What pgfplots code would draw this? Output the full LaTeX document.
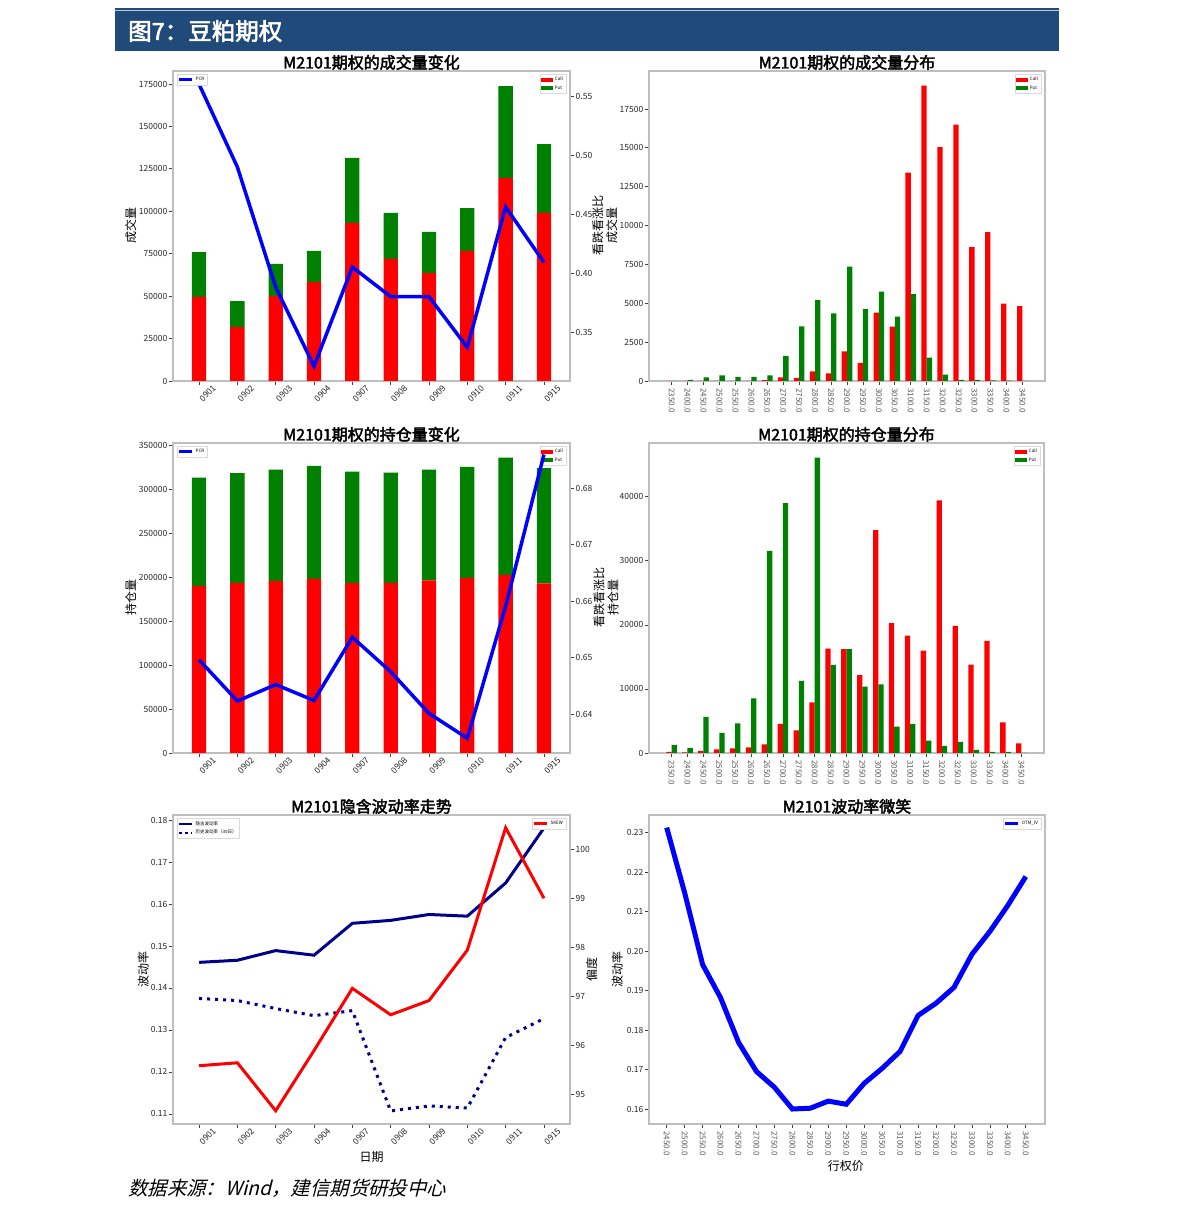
\documentclass[border=0pt]{standalone}
\usepackage{fontspec}
\setmainfont{Noto Sans CJK SC}
\newfontfamily\boldcjk{Noto Sans CJK SC}[FakeBold=2.5]
\newfontfamily\slantcjk{Noto Sans CJK SC}[FakeSlant=0.25]
\usepackage{pgfplots}
\usepackage{pgfplotstable}
\pgfplotsset{compat=1.18}
\definecolor{hdr}{RGB}{32,74,122}
\definecolor{mplgreen}{RGB}{0,128,0}
\definecolor{navyb}{RGB}{0,0,139}
\definecolor{framec}{RGB}{190,190,190}

\pgfplotsset{
  base/.style={
    scale only axis,
    axis line style={draw=framec, line width=1.3pt},
    tick style={draw=black!75, line width=0.7pt},
    major tick length=4pt,
    tick align=outside,
    tick label style={font=\fontsize{8.5}{10}\selectfont, text=black!85},
    yticklabel style={inner sep=1.5pt},
    /pgf/number format/fixed,
    /pgf/number format/assume math mode=true,
    /pgf/number format/1000 sep={},
    scaled ticks=false,
    title style={font=\boldcjk\fontsize{16}{18}\selectfont, at={(0.5,1)}, anchor=base, yshift=-3.5pt, inner sep=0pt},
    label style={font=\fontsize{12}{14}\selectfont, align=center},
    legend style={font=\fontsize{4.5}{5}\selectfont, draw=black!15, inner sep=1pt, row sep=-0.5pt, legend cell align=left, fill=white},
  },
  catx/.style={xmin=-0.68, xmax=9.68, xtick={0,...,9},
    xticklabels={0901,0902,0903,0904,0907,0908,0909,0910,0911,0915},
    xticklabel style={rotate=45, anchor=center, yshift=-12pt}},
  strikex/.style={xticklabel style={rotate=-90, anchor=west, text=black!65, font=\fontsize{8}{9}\selectfont}},
  barleg/.style={legend image code/.code={\fill[#1] (0pt,-2pt) rectangle (12pt,2pt);}},
  lineleg/.style={legend image code/.code={\draw[#1] (0pt,0pt) -- (13pt,0pt);}},
}

\pgfplotstableread{
x call put pcr
0 49500 26500 0.560
1 31800 15300 0.4898
2 50100 18900 0.388
3 58300 18300 0.321
4 93100 38300 0.405
5 71900 27100 0.380
6 63600 24200 0.380
7 76600 25300 0.337
8 119600 54200 0.456
9 99000 40600 0.409
}\volchg

\pgfplotstableread{
x call put pcr
0 190200 123000 0.6496
1 193600 124900 0.6423
2 195900 126400 0.6452
3 198200 128300 0.6424
4 193200 126800 0.6536
5 193600 125300 0.6475
6 196300 126000 0.6401
7 199300 126100 0.6357
8 202700 133300 0.6591
9 192900 131300 0.6860
}\oichg

\pgfplotstableread{
k call put
2350 0 0
2400 0 64
2450 0 236
2500 0 364
2550 0 257
2600 0 257
2650 50 364
2700 236 1608
2750 193 3516
2800 622 5210
2850 493 4352
2900 1908 7354
2950 1158 4631
3000 4395 5746
3050 3495 4138
3100 13400 5596
3150 18996 1501
3200 15051 407
3250 16487 64
3300 8619 64
3350 9584 43
3400 4974 21
3450 4824 0
}\voldist

\pgfplotstableread{
k call put
2350 156 1250
2400 104 781
2450 312 5625
2500 573 3125
2550 729 4635
2600 885 8541
2650 1354 31560
2700 4531 39010
2750 3541 11250
2800 7916 46090
2850 16300 13750
2900 16200 16200
2950 12135 10364
3000 34790 10729
3050 20260 4114
3100 18333 4531
3150 15990 1927
3200 39425 1094
3250 19843 1719
3300 13800 469
3350 17500 156
3400 4791 156
3450 1510 0
}\oidist

\pgfplotstableread{
x iv hv skew
0 0.1461 0.1375 95.58
1 0.1466 0.1370 95.64
2 0.1489 0.1351 94.66
3 0.1478 0.1334 95.89
4 0.1554 0.1346 97.16
5 0.1561 0.1107 96.62
6 0.1575 0.1119 96.91
7 0.1571 0.1114 97.94
8 0.1650 0.1282 100.44
9 0.1781 0.1327 99.00
}\ivtrend

\pgfplotstableread{
k iv
2450 0.2313
2500 0.2148
2550 0.1966
2600 0.1882
2650 0.1769
2700 0.1695
2750 0.1655
2800 0.1600
2850 0.1602
2900 0.1620
2950 0.1612
3000 0.1665
3050 0.1703
3100 0.1746
3150 0.1837
3200 0.1868
3250 0.1908
3300 0.1992
3350 0.2050
3400 0.2116
3450 0.2189
}\smile

\begin{document}
\begin{tikzpicture}
\useasboundingbox (0pt,0pt) rectangle (1191pt,1219pt);
% header
\fill[hdr] (115pt,1168pt) rectangle (1059pt,1211pt);
\draw[white!70!hdr, line width=0.8pt] (115pt,1208.5pt) -- (1059pt,1208.5pt);
\node[anchor=west, text=white, font=\boldcjk\fontsize{23.5}{25}\selectfont, inner sep=0pt] at (128pt,1188pt) {图7：豆粕期权};
% footer
\node[anchor=west, font=\slantcjk\fontsize{19.4}{21}\selectfont, inner sep=0pt] at (128pt,31pt) {数据来源：Wind，建信期货研投中心};

% ===== Panel 1 =====
\begin{axis}[base, catx, at={(173pt,838pt)}, anchor=south west, width=397pt, height=310pt,
  ybar stacked, bar width=14.3pt,
  xtick pos=left, ytick pos=left,
  ymin=0, ymax=182650, ytick={0,25000,50000,75000,100000,125000,150000,175000},
  title={M2101期权的成交量变化},
  ylabel={成交量}, ylabel style={at={(axis description cs:-0.106,0.5)}, anchor=center},
  legend style={at={(0.99,0.99)}, anchor=north east}]
\addplot[fill=red, draw=none, barleg=red] table[x=x,y=call]{\volchg};
\addlegendentry{Call}
\addplot[fill=mplgreen, draw=none, barleg=mplgreen] table[x=x,y=put]{\volchg};
\addlegendentry{Put}
\end{axis}
\begin{axis}[base, at={(173pt,838pt)}, anchor=south west, width=397pt, height=310pt,
  xmin=-0.68, xmax=9.68, axis x line=none, axis y line*=right,
  ymin=0.3085, ymax=0.5712, ytick={0.35,0.40,0.45,0.50,0.55},
  yticklabel style={/pgf/number format/.cd, fixed, fixed zerofill, precision=2},
  ylabel={看跌看涨比\\成交量}, ylabel style={at={(axis description cs:1.088,0.5)}, anchor=center},
  legend style={at={(0.01,0.99)}, anchor=north west}]
\addplot[blue, line width=3.5pt, lineleg={blue, line width=2.5pt}] table[x=x,y=pcr]{\volchg};
\addlegendentry{PCR}
\end{axis}

% ===== Panel 2 =====
\begin{axis}[base, strikex, at={(649pt,838pt)}, anchor=south west, width=396pt, height=310pt,
  xmin=2279, xmax=3521, xtick={2350,2400,...,3450},
  xticklabels={2350.0,2400.0,2450.0,2500.0,2550.0,2600.0,2650.0,2700.0,2750.0,2800.0,2850.0,2900.0,2950.0,3000.0,3050.0,3100.0,3150.0,3200.0,3250.0,3300.0,3350.0,3400.0,3450.0},
  xtick pos=left, ytick pos=left,
  ymin=0, ymax=19944, ytick={0,2500,5000,7500,10000,12500,15000,17500},
  title={M2101期权的成交量分布},
  legend style={at={(0.99,0.99)}, anchor=north east}]
\addplot[ybar, bar width=5.3pt, bar shift=-2.65pt, fill=red, draw=none, barleg=red] table[x=k,y=call]{\voldist};
\addlegendentry{Call}
\addplot[ybar, bar width=5.3pt, bar shift=2.65pt, fill=mplgreen, draw=none, barleg=mplgreen] table[x=k,y=put]{\voldist};
\addlegendentry{Put}
\end{axis}

% ===== Panel 3 =====
\begin{axis}[base, catx, at={(173pt,466pt)}, anchor=south west, width=397pt, height=310pt,
  ybar stacked, bar width=14.3pt,
  xtick pos=left, ytick pos=left,
  ymin=0, ymax=352660, ytick={0,50000,100000,150000,200000,250000,300000,350000},
  title={M2101期权的持仓量变化},
  ylabel={持仓量}, ylabel style={at={(axis description cs:-0.106,0.5)}, anchor=center},
  legend style={at={(0.99,0.99)}, anchor=north east}]
\addplot[fill=red, draw=none, barleg=red] table[x=x,y=call]{\oichg};
\addlegendentry{Call}
\addplot[fill=mplgreen, draw=none, barleg=mplgreen] table[x=x,y=put]{\oichg};
\addlegendentry{Put}
\end{axis}
\begin{axis}[base, at={(173pt,466pt)}, anchor=south west, width=397pt, height=310pt,
  xmin=-0.68, xmax=9.68, axis x line=none, axis y line*=right,
  ymin=0.63308, ymax=0.68805, ytick={0.64,0.65,0.66,0.67,0.68},
  yticklabel style={/pgf/number format/.cd, fixed, fixed zerofill, precision=2},
  ylabel={看跌看涨比\\持仓量}, ylabel style={at={(axis description cs:1.091,0.5)}, anchor=center},
  legend style={at={(0.01,0.99)}, anchor=north west}]
\addplot[blue, line width=3.5pt, lineleg={blue, line width=2.5pt}] table[x=x,y=pcr]{\oichg};
\addlegendentry{PCR}
\end{axis}

% ===== Panel 4 =====
\begin{axis}[base, strikex, at={(649pt,466pt)}, anchor=south west, width=395pt, height=310pt,
  xmin=2279, xmax=3521, xtick={2350,2400,...,3450},
  xticklabels={2350.0,2400.0,2450.0,2500.0,2550.0,2600.0,2650.0,2700.0,2750.0,2800.0,2850.0,2900.0,2950.0,3000.0,3050.0,3100.0,3150.0,3200.0,3250.0,3300.0,3350.0,3400.0,3450.0},
  xtick pos=left, ytick pos=left,
  ymin=0, ymax=48385, ytick={0,10000,20000,30000,40000},
  title={M2101期权的持仓量分布},
  legend style={at={(0.99,0.99)}, anchor=north east}]
\addplot[ybar, bar width=5.3pt, bar shift=-2.65pt, fill=red, draw=none, barleg=red] table[x=k,y=call]{\oidist};
\addlegendentry{Call}
\addplot[ybar, bar width=5.3pt, bar shift=2.65pt, fill=mplgreen, draw=none, barleg=mplgreen] table[x=k,y=put]{\oidist};
\addlegendentry{Put}
\end{axis}

% ===== Panel 5 =====
\begin{axis}[base, catx, at={(173pt,95pt)}, anchor=south west, width=397pt, height=309pt,
  xtick pos=left, ytick pos=left,
  ymin=0.1076, ymax=0.1812, ytick={0.11,0.12,0.13,0.14,0.15,0.16,0.17,0.18},
  yticklabel style={/pgf/number format/.cd, fixed, fixed zerofill, precision=2},
  title={M2101隐含波动率走势},
  xlabel={日期}, xlabel style={at={(axis description cs:0.5,-0.106)}, anchor=center},
  ylabel={波动率}, ylabel style={at={(axis description cs:-0.075,0.5)}, anchor=center},
  legend style={at={(0.01,0.99)}, anchor=north west}]
\addplot[navyb, line width=3pt, lineleg={navyb, line width=2.5pt}] table[x=x,y=iv]{\ivtrend};
\addlegendentry{隐含波动率}
\addplot[navyb, line width=3pt, dash pattern=on 3pt off 5pt, lineleg={navyb, line width=2.5pt, dash pattern=on 2.5pt off 3.5pt}] table[x=x,y=hv]{\ivtrend};
\addlegendentry{历史波动率（30日）}
\end{axis}
\begin{axis}[base, at={(173pt,95pt)}, anchor=south west, width=397pt, height=309pt,
  xmin=-0.68, xmax=9.68, axis x line=none, axis y line*=right,
  ymin=94.39, ymax=100.70, ytick={95,96,97,98,99,100},
  ylabel={偏度}, ylabel style={at={(axis description cs:1.055,0.5)}, anchor=center},
  legend style={at={(0.99,0.99)}, anchor=north east}]
\addplot[red, line width=3pt, lineleg={red, line width=2.5pt}] table[x=x,y=skew]{\ivtrend};
\addlegendentry{SKEW}
\end{axis}

% ===== Panel 6 =====
\begin{axis}[base, strikex, at={(649pt,95pt)}, anchor=south west, width=396pt, height=309pt,
  xmin=2400.7, xmax=3503.5, xtick={2450,2500,...,3450},
  xticklabels={2450.0,2500.0,2550.0,2600.0,2650.0,2700.0,2750.0,2800.0,2850.0,2900.0,2950.0,3000.0,3050.0,3100.0,3150.0,3200.0,3250.0,3300.0,3350.0,3400.0,3450.0},
  xtick pos=left, ytick pos=left,
  ymin=0.1562, ymax=0.2345, ytick={0.16,0.17,0.18,0.19,0.20,0.21,0.22,0.23},
  yticklabel style={/pgf/number format/.cd, fixed, fixed zerofill, precision=2},
  title={M2101波动率微笑},
  xlabel={行权价}, xlabel style={at={(axis description cs:0.497,-0.137)}, anchor=center},
  ylabel={波动率}, ylabel style={at={(axis description cs:-0.08,0.5)}, anchor=center},
  legend style={at={(0.99,0.99)}, anchor=north east}]
\addplot[blue, line width=5pt, lineleg={blue, line width=3pt}] table[x=k,y=iv]{\smile};
\addlegendentry{OTM\_IV}
\end{axis}
\end{tikzpicture}
\end{document}
